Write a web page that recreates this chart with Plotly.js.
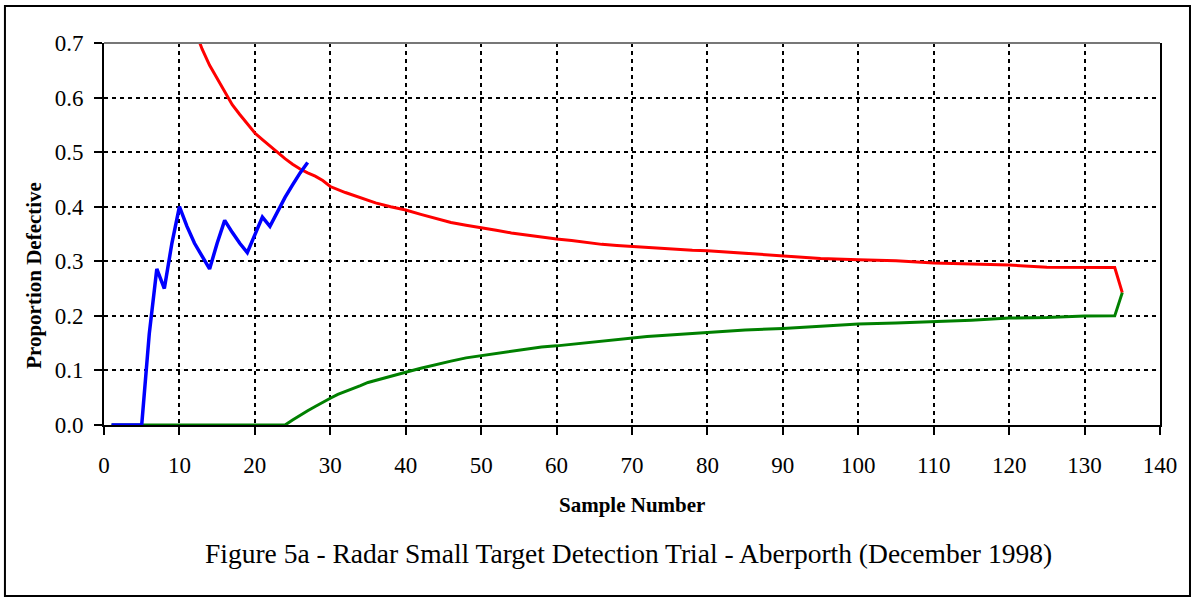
<!DOCTYPE html>
<html>
<head>
<meta charset="utf-8">
<script src="https://cdn.plot.ly/plotly-3.0.1.min.js"></script>
<style>
  html, body { margin: 0; padding: 0; background: #fff; }
  #chart { width: 1194px; height: 598px; }
</style>
</head>
<body>
<div id="chart"></div>
<script>
// Blue: observed proportion defective
const blueX = [1,2,3,4,5,6,7,8,9,10,11,12,13,14,15,16,17,18,19,20,21,22,23,24,25,26,27];
const blueY = [0,0,0,0,0,0.167,0.286,0.25,0.333,0.4,0.364,0.333,0.308,0.286,0.333,0.375,0.353,0.333,0.316,0.35,0.381,0.364,0.391,0.417,0.44,0.462,0.481];

// Red: upper limit
const redX = [12,13,14,15,16,17,18,19,20,21,22,23,24,25,26,27,28,29,30,32,34,36,38,40,42,44,46,48,50,52,54,56,58,60,62,64,66,68,70,72,74,76,78,80,85,90,95,100,105,110,115,120,125,130,134,135];
const redY = [0.726,0.689,0.659,0.635,0.611,0.587,0.569,0.552,0.535,0.523,0.511,0.500,0.488,0.478,0.469,0.462,0.456,0.448,0.437,0.426,0.416,0.407,0.400,0.394,0.386,0.378,0.371,0.366,0.362,0.357,0.352,0.348,0.344,0.341,0.338,0.334,0.331,0.329,0.327,0.325,0.323,0.322,0.320,0.3195,0.315,0.310,0.305,0.3027,0.301,0.297,0.295,0.293,0.289,0.2885,0.2885,0.2425];

// Green: lower limit
const greenX = [1,24,25,26,27,28,29,30,31,32,33,34,35,36,38,40,42,44,46,48,50,52,54,56,58,60,62,64,66,68,70,72,74,76,78,80,85,90,95,100,105,110,115,120,125,130,134,135];
const greenY = [0,0,0.009,0.018,0.026,0.034,0.042,0.049,0.056,0.061,0.066,0.072,0.078,0.082,0.089,0.0966,0.104,0.111,0.117,0.123,0.127,0.131,0.136,0.139,0.143,0.145,0.148,0.151,0.154,0.157,0.159,0.162,0.164,0.166,0.168,0.170,0.174,0.177,0.181,0.185,0.187,0.189,0.192,0.196,0.197,0.1997,0.2,0.2425];

const xTicks = [0,10,20,30,40,50,60,70,80,90,100,110,120,130,140];
const yTicks = [0,0.1,0.2,0.3,0.4,0.5,0.6,0.7];

const chartTitle = 'Figure 5a - Radar Small Target Detection Trial - Aberporth (December 1998)';
const xTitle = 'Sample Number';
const yTitle = 'Proportion Defective';

const serif = '"Liberation Serif", "Times New Roman", serif';

const traces = [
  {x: redX, y: redY, type: 'scatter', mode: 'lines', line: {color: '#FF0000', width: 3}, hoverinfo: 'skip'},
  {x: greenX, y: greenY, type: 'scatter', mode: 'lines', line: {color: '#008000', width: 3}, hoverinfo: 'skip'},
  {x: blueX, y: blueY, type: 'scatter', mode: 'lines', line: {color: '#0000FF', width: 3.5}, hoverinfo: 'skip'}
];

const layout = {
  width: 1194, height: 598,
  margin: {l: 104, r: 34, t: 43, b: 173, pad: 0},
  paper_bgcolor: '#ffffff', plot_bgcolor: '#ffffff',
  showlegend: false,
  font: {family: serif, color: '#000'},
  title: {text: chartTitle, font: {family: serif, size: 27.5, color: '#000'}, x: 0.5264, xanchor: 'center', y: 0.075, yanchor: 'middle', xref: 'container', yref: 'container'},
  xaxis: {
    range: [0, 140], tickvals: xTicks, ticktext: xTicks.map(String),
    showgrid: true, gridcolor: '#000', gridwidth: 2, griddash: '4px,4px',
    zeroline: false, showline: true, linecolor: '#000', linewidth: 2,
    ticks: 'outside', ticklen: 8, tickwidth: 2, tickcolor: '#000',
    tickfont: {family: serif, size: 23, color: '#000'}, ticklabelstandoff: 10,
    fixedrange: true
  },
  yaxis: {
    range: [0, 0.7], tickvals: yTicks, tickformat: '.1f',
    showgrid: true, gridcolor: '#000', gridwidth: 2, griddash: '4px,4px',
    zeroline: false, showline: true, linecolor: '#000', linewidth: 2, mirror: true,
    ticks: 'outside', ticklen: 8, tickwidth: 2, tickcolor: '#000',
    tickfont: {family: serif, size: 23, color: '#000'}, ticklabelstandoff: 6,
    fixedrange: true
  },
  annotations: [
    {text: '<b>' + xTitle + '</b>', xref: 'paper', yref: 'paper', x: 0.5, y: -0.209, xanchor: 'center', yanchor: 'middle', showarrow: false, font: {family: serif, size: 21, color: '#000'}},
    {text: '<b>' + yTitle + '</b>', xref: 'paper', yref: 'paper', x: -0.0663, y: 0.393, xanchor: 'center', yanchor: 'middle', textangle: -90, showarrow: false, font: {family: serif, size: 21, color: '#000'}}
  ],
  shapes: [
    {type: 'line', xref: 'paper', yref: 'paper', x0: 0, x1: 1, y0: 1, y1: 1, line: {color: '#777', width: 2}},
    {type: 'rect', xref: 'paper', yref: 'paper', x0: -0.0938, x1: 1.0284, y0: -0.4476, y1: 1.0969, line: {color: '#000', width: 2}, fillcolor: 'rgba(0,0,0,0)'}
  ]
};

Plotly.newPlot('chart', traces, layout, {staticPlot: true, displayModeBar: false});
</script>
</body>
</html>
